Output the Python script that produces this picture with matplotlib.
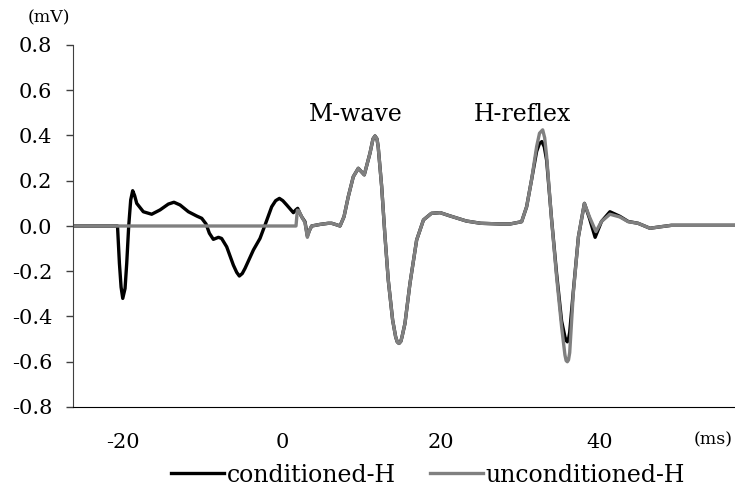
import matplotlib
matplotlib.use("Agg")
import matplotlib.pyplot as plt

plt.rcParams['font.family'] = ['DejaVu Serif']
plt.rcParams['axes.unicode_minus'] = False

# conditioned-H (black)
cond_t = [-26.3, -20.7, -20.46, -20.25, -20.04, -19.75, -19.54, -19.29, -19.04, -18.79,
          -18.55, -18.28, -17.45, -16.4, -15.35, -14.3, -13.6, -12.83, -11.78, -10.73,
          -10.1, -9.56, -9.14, -8.64, -8.0, -7.6, -6.96, -6.12, -5.7, -5.37,
          -5.0, -4.65, -3.6, -2.77, -2.14, -1.3, -0.8, -0.33, 0.1, 0.59,
          1.43, 1.7, 1.97, 2.2, 2.47, 2.89, 3.19, 3.45, 3.73, 4.78,
          5.83, 6.25, 6.8, 7.3, 7.8, 8.34, 8.97, 9.6, 10.35, 11.07,
          11.45, 11.7, 11.95, 12.1, 12.54, 12.96, 13.37, 13.92, 14.3, 14.5,
          14.72, 14.95, 15.1, 15.47, 16.1, 16.94, 17.8, 18.8, 19.9, 21.1,
          23.2, 25.0, 27.4, 28.7, 30.15, 30.78, 31.4, 32.04, 32.4, 32.7,
          33.0, 33.3, 33.92, 34.55, 35.18, 35.6, 35.75, 35.9, 36.05, 36.2,
          36.65, 37.3, 38.05, 38.68, 39.4, 40.2, 41.26, 42.5, 43.56, 44.8,
          46.3, 47.5, 49.0, 57.0]
cond_v = [0.0, 0.0, -0.165, -0.27, -0.32, -0.276, -0.165, 0.0, 0.115, 0.156,
          0.135, 0.1, 0.063, 0.052, 0.071, 0.097, 0.105, 0.093, 0.063, 0.044,
          0.034, 0.009, -0.032, -0.059, -0.05, -0.055, -0.092, -0.173, -0.205, -0.221,
          -0.21, -0.187, -0.106, -0.055, 0.004, 0.085, 0.112, 0.122, 0.112, 0.093,
          0.059, 0.07, 0.078, 0.06, 0.041, 0.019, -0.044, -0.02, 0.0, 0.007,
          0.012, 0.012, 0.006, 0.0, 0.041, 0.13, 0.218, 0.255, 0.226, 0.322,
          0.385, 0.398, 0.385, 0.351, 0.174, -0.047, -0.239, -0.416, -0.49, -0.512,
          -0.519, -0.51, -0.49, -0.431, -0.254, -0.062, 0.027, 0.056, 0.059, 0.045,
          0.022, 0.012, 0.009, 0.009, 0.019, 0.085, 0.204, 0.33, 0.365, 0.373,
          0.35, 0.29, 0.03, -0.21, -0.42, -0.49, -0.505, -0.512, -0.5, -0.47,
          -0.29, -0.047, 0.1, 0.035, -0.05, 0.02, 0.063, 0.043, 0.02, 0.012,
          -0.01, -0.004, 0.003, 0.003]

# unconditioned-H (gray)
uncond_t = [-26.3, 1.76, 1.93, 2.1, 2.47, 2.89, 3.19, 3.45, 3.73, 4.78,
            5.83, 6.25, 6.8, 7.3, 7.8, 8.34, 8.97, 9.6, 10.35, 11.07,
            11.45, 11.7, 11.95, 12.1, 12.54, 12.96, 13.37, 13.92, 14.3, 14.5,
            14.72, 14.95, 15.1, 15.47, 16.1, 16.94, 17.8, 18.8, 19.9, 21.1,
            23.2, 25.0, 27.4, 28.7, 30.15, 30.78, 31.4, 32.04, 32.4, 32.8,
            33.05, 33.3, 33.92, 34.55, 35.18, 35.6, 35.75, 35.9, 36.05, 36.2,
            36.65, 37.3, 38.05, 38.68, 39.5, 40.2, 41.26, 42.5, 43.56, 44.8,
            46.3, 47.5, 49.0, 57.0]
uncond_v = [0.0, 0.0, 0.07, 0.068, 0.041, 0.015, -0.05, -0.02, 0.0, 0.007,
            0.012, 0.012, 0.006, 0.0, 0.041, 0.13, 0.218, 0.255, 0.226, 0.322,
            0.385, 0.398, 0.385, 0.351, 0.174, -0.047, -0.239, -0.416, -0.49, -0.512,
            -0.519, -0.51, -0.49, -0.431, -0.254, -0.062, 0.027, 0.056, 0.059, 0.045,
            0.022, 0.012, 0.009, 0.009, 0.019, 0.085, 0.204, 0.351, 0.41, 0.425,
            0.39, 0.307, 0.027, -0.224, -0.445, -0.57, -0.595, -0.60, -0.592, -0.56,
            -0.298, -0.047, 0.1, 0.041, -0.025, 0.02, 0.052, 0.04, 0.019, 0.012,
            -0.01, -0.004, 0.003, 0.003]

y_ticks = [-0.8, -0.6, -0.4, -0.2, 0.0, 0.2, 0.4, 0.6, 0.8]
x_ticks = [-20, 0, 20, 40]

fig = plt.figure(figsize=(7.35, 4.9), dpi=100)
ax = fig.add_axes([73/735, 83/490, 1 - 73/735, (407 - 45)/490])

ax.plot(cond_t, cond_v, color='black', lw=2.4, label='conditioned-H', solid_joinstyle='round')
ax.plot(uncond_t, uncond_v, color='#808080', lw=2.4, label='unconditioned-H', solid_joinstyle='round')

ax.set_xlim(-26.3, 57)
ax.set_ylim(-0.8, 0.8)
ax.set_yticks(y_ticks)
ax.set_yticklabels([f"{v:.1f}" for v in y_ticks], fontsize=15)
ax.set_xticks(x_ticks)
ax.set_xticklabels([str(v) for v in x_ticks], fontsize=15)
ax.tick_params(axis='x', length=0, pad=19)
ax.tick_params(axis='y', length=5, width=1, direction='out', pad=10, color='#404040')
for s in ['top', 'right']:
    ax.spines[s].set_visible(False)
ax.spines['left'].set_color('#404040')
ax.spines['bottom'].set_color('black')

fig.text(49/735, 1 - 18/490, '(mV)', fontsize=12.5, ha='center', va='center')
fig.text(713/735, 1 - 440/490, '(ms)', fontsize=12.5, ha='center', va='center')
ax.text(9.3, 0.495, 'M-wave', fontsize=17, ha='center', va='center')
ax.text(30.3, 0.495, 'H-reflex', fontsize=17, ha='center', va='center')

leg = fig.legend(loc='center', bbox_to_anchor=(428/735, 1 - 475/490), ncol=2, frameon=False,
                 fontsize=17, handlelength=2.25, handletextpad=0.1, columnspacing=1.45,
                 borderaxespad=0, borderpad=0)

fig.savefig('out.png', dpi=100)
